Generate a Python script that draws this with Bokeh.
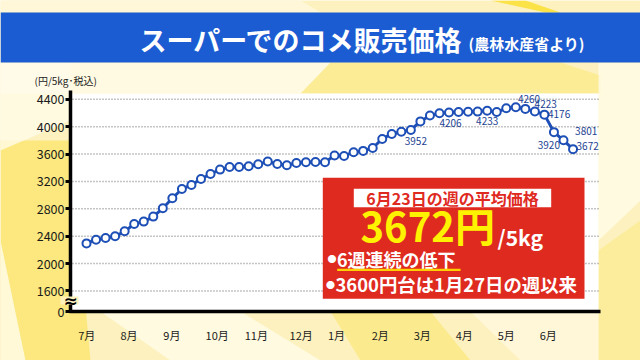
from bokeh.plotting import figure
from bokeh.models import (Range1d, FixedTicker, BoxAnnotation, Label, PolyAnnotation,
                          ColumnDataSource)
from bokeh.core.properties import value
from bokeh.embed import file_html
from bokeh.resources import INLINE

# ---------------- data ----------------
months = ["7月", "8月", "9月", "10月", "11月", "12月", "1月", "2月", "3月", "4月", "5月", "6月"]
month_pos = [0.03, 4.46, 8.95, 13.7, 17.8, 22.5, 26.2, 30.8, 35.2, 39.6, 44.0, 48.4]
weeks = list(range(52))
prices = [2295, 2349, 2373, 2398, 2471, 2578, 2613, 2686, 2807, 2954,
          3090, 3148, 3236, 3309, 3373, 3412, 3412, 3422, 3451, 3490,
          3455, 3436, 3470, 3480, 3485, 3480, 3578, 3572, 3627, 3646,
          3688, 3821, 3894, 3925, 3952, 4077, 4163, 4197, 4206, 4214,
          4217, 4220, 4233, 4214, 4268, 4285, 4260, 4223, 4176, 3920,
          3801, 3672]
label_weeks = [34, 38, 42, 46, 47, 48, 49, 50, 51]
y_ticks = [1600, 2000, 2400, 2800, 3200, 3600, 4000, 4400]

# ---------------- layout (window pixels -> data) ----------------
W, H = 640, 360
XPX0, XPPW = 86.0, 9.54        # window x of week 0, pixels per week
YREF_PX, YREF, YPP = 98.8, 4400, 14.61   # 4400 line position, yen per pixel


def dx(px):
    return (px - XPX0) / XPPW


def dy(py):
    return YREF - (py - YREF_PX) * YPP


y_break = dy(311)  # the broken axis bottom, labelled "0"

BG = "#fdf2bf"
JP = "Noto Sans CJK JP"

p = figure(width=W, height=H, output_backend="svg", toolbar_location=None,
           x_range=Range1d(dx(0), dx(W)), y_range=Range1d(dy(H), dy(0)),
           min_border=0, min_border_left=0, min_border_right=0,
           min_border_top=0, min_border_bottom=0,
           background_fill_color=BG, border_fill_color=BG,
           outline_line_color=None)
p.title.visible = False


def poly(xs, ys, color, alpha):
    p.add_layout(PolyAnnotation(xs=[dx(v) for v in xs], ys=[dy(v) for v in ys],
                                fill_color=color, fill_alpha=alpha, line_color=None,
                                level="underlay"))


# background rays
poly([0, 0, 30, 90, 70], [140, 360, 360, 360, 140], "#fbe56e", 0.8)
poly([0, 0, 25], [240, 360, 360], "#fffbe6", 0.85)
poly([0, 70, 70, 0], [62, 62, 120, 150], "#fffbe8", 0.8)
poly([0, 300, 320, 0], [0, 0, 12, 12], "#fffae2", 0.7)
poly([490, 525, 560, 545], [0, 0, 12, 12], "#fbe03a", 0.9)
poly([330, 560, 600, 600, 300], [62, 62, 75, 93, 93], "#fbe77a", 0.6)
poly([0, 330, 300, 0], [62, 62, 93, 93], "#fffbea", 0.8)
poly([598, 640, 640, 598], [62, 62, 200, 240], "#fffbe8", 0.8)
poly([598, 640, 640, 598], [250, 220, 360, 360], "#fbe77a", 0.5)
poly([100, 240, 320, 170], [311, 311, 360, 360], "#fffbe8", 0.8)
poly([330, 430, 470, 360], [311, 311, 360, 360], "#fbe56e", 0.6)
poly([470, 598, 598, 520], [311, 311, 360, 360], "#fffae2", 0.7)

# white chart panel
p.add_layout(BoxAnnotation(left=dx(70), right=dx(598), top=dy(93), bottom=y_break,
                           fill_color="white", fill_alpha=1, line_color=None,
                           level="underlay"))

# title bar
p.add_layout(BoxAnnotation(left=dx(0), right=dx(W), top=dy(12), bottom=dy(62),
                           fill_color="#1c5cd2", fill_alpha=1, line_color=None))
p.add_layout(Label(x=dx(139), y=dy(39), text="スーパーでのコメ販売価格",
                   text_color="white", text_font=JP, text_font_style="bold",
                   text_font_size="27px", text_baseline="middle"))
p.add_layout(Label(x=dx(468), y=dy(43), text="(農林水産省より)",
                   text_color="white", text_font=JP, text_font_style="bold",
                   text_font_size="15px", text_baseline="middle"))
p.add_layout(Label(x=dx(34), y=dy(80), text="(円/5kg･税込)", text_color="#222222",
                   text_font=JP, text_font_size="10px", text_baseline="middle"))

# gridlines (dotted, only across the panel)
p.segment(x0=dx(72), x1=dx(598), y0=y_ticks, y1=y_ticks, line_color="#8a8a8a",
          line_dash="1 2", line_width=1.5)
p.xgrid.visible = False
p.ygrid.visible = False

# axes placed at fixed locations inside the full-canvas frame
p.xaxis.fixed_location = y_break
p.xaxis.bounds = (dx(68.5), dx(600))
p.yaxis.fixed_location = dx(70)
p.yaxis.bounds = (y_break, dy(90))
p.xaxis.ticker = FixedTicker(ticks=month_pos)
p.xaxis.major_label_overrides = {m: t for m, t in zip(month_pos, months)}
p.yaxis.ticker = FixedTicker(ticks=[y_break] + y_ticks)
p.yaxis.major_label_overrides = {y_break: "0"}
for ax in (p.xaxis, p.yaxis):
    ax.axis_line_color = "black"
    ax.axis_line_width = 3.5
    ax.major_label_text_font = JP
    ax.major_label_text_color = "#1a1a1a"
    ax.minor_tick_line_color = None
p.xaxis.major_tick_line_color = None
p.xaxis.major_label_text_font_size = "11px"
p.xaxis.major_label_standoff = 9
p.yaxis.major_tick_in = 0
p.yaxis.major_tick_out = 5
p.yaxis.major_tick_line_width = 3
p.yaxis.major_tick_line_color = "black"
p.yaxis.major_label_text_font_size = "12.5px"
p.yaxis.major_label_standoff = 1

# axis break
p.add_layout(BoxAnnotation(left=dx(60), right=dx(78), top=dy(296), bottom=dy(304),
                           fill_color="#fdf2bc", fill_alpha=1, line_color=None))
p.add_layout(Label(x=dx(70), y=dy(300), text="≈", text_color="black",
                   text_font="DejaVu Sans", text_font_style="bold",
                   text_font_size="17px", text_align="center", text_baseline="middle"))

# line + points
src = ColumnDataSource(dict(w=weeks, v=prices))
p.line("w", "v", source=src, line_color="#1d4fb6", line_width=3)
p.scatter("w", "v", source=src, size=8, fill_color="white",
          line_color="#1d4fb6", line_width=2)

# value labels
offs = [(5, 11), (1.5, 10.3), (0, 10.7), (3.7, -9.4), (10.8, -7.3), (14.7, -1),
        (-5.1, 13), (22.7, -9.6), (14.6, -3.4)]
lsrc = ColumnDataSource(dict(
    w=label_weeks, v=[prices[i] for i in label_weeks],
    t=[str(prices[i]) for i in label_weeks],
    ox=[o[0] for o in offs], oy=[o[1] for o in offs]))
p.text("w", "v", text="t", source=lsrc, x_offset="ox", y_offset="oy",
       text_font=value(JP), text_font_size="10px", text_color="#1c3f92",
       text_align="center", text_baseline="middle")

# red info box
RED = "#df2a1f"
p.add_layout(BoxAnnotation(left=dx(322.3), right=dx(584), top=dy(177.3), bottom=dy(298.3),
                           fill_color=RED, fill_alpha=1, line_color=None))
p.add_layout(BoxAnnotation(left=dx(353.3), right=dx(550.7), top=dy(188.3), bottom=dy(206.7),
                           fill_color="white", fill_alpha=1, line_color=None))
p.add_layout(Label(x=dx(452), y=dy(197.8), text="6月23日の週の平均価格",
                   text_color=RED, text_font=JP, text_font_style="bold",
                   text_font_size="16px", text_align="center", text_baseline="middle"))
p.add_layout(Label(x=dx(360), y=dy(224), text=f"{prices[-1]}円",
                   text_color="#fff200", text_font=JP, text_font_style="bold",
                   text_font_size="40px", text_baseline="middle"))
p.add_layout(Label(x=dx(497), y=dy(236), text="/5kg",
                   text_color="white", text_font=JP, text_font_style="bold",
                   text_font_size="21px", text_baseline="middle"))
p.add_layout(Label(x=dx(331.5), y=dy(258), text="●", text_color="white",
                   text_font=JP, text_font_size="9px", text_align="center",
                   text_baseline="middle"))
p.add_layout(Label(x=dx(336.5), y=dy(258), text="6週連続の低下",
                   text_color="white", text_font=JP, text_font_style="bold",
                   text_font_size="18px", text_baseline="middle"))
p.add_layout(BoxAnnotation(left=dx(336.7), right=dx(460), top=dy(268.3), bottom=dy(270.5),
                           fill_color="#ffcf00", fill_alpha=1, line_color=None))
p.add_layout(Label(x=dx(330), y=dy(283.5), text="●", text_color="white",
                   text_font=JP, text_font_size="9px", text_align="center",
                   text_baseline="middle"))
p.add_layout(Label(x=dx(335), y=dy(283.5), text="3600円台は1月27日の週以来",
                   text_color="white", text_font=JP, text_font_style="bold",
                   text_font_size="18.4px", text_baseline="middle"))

open("out.html", "w").write(file_html(p, INLINE))
